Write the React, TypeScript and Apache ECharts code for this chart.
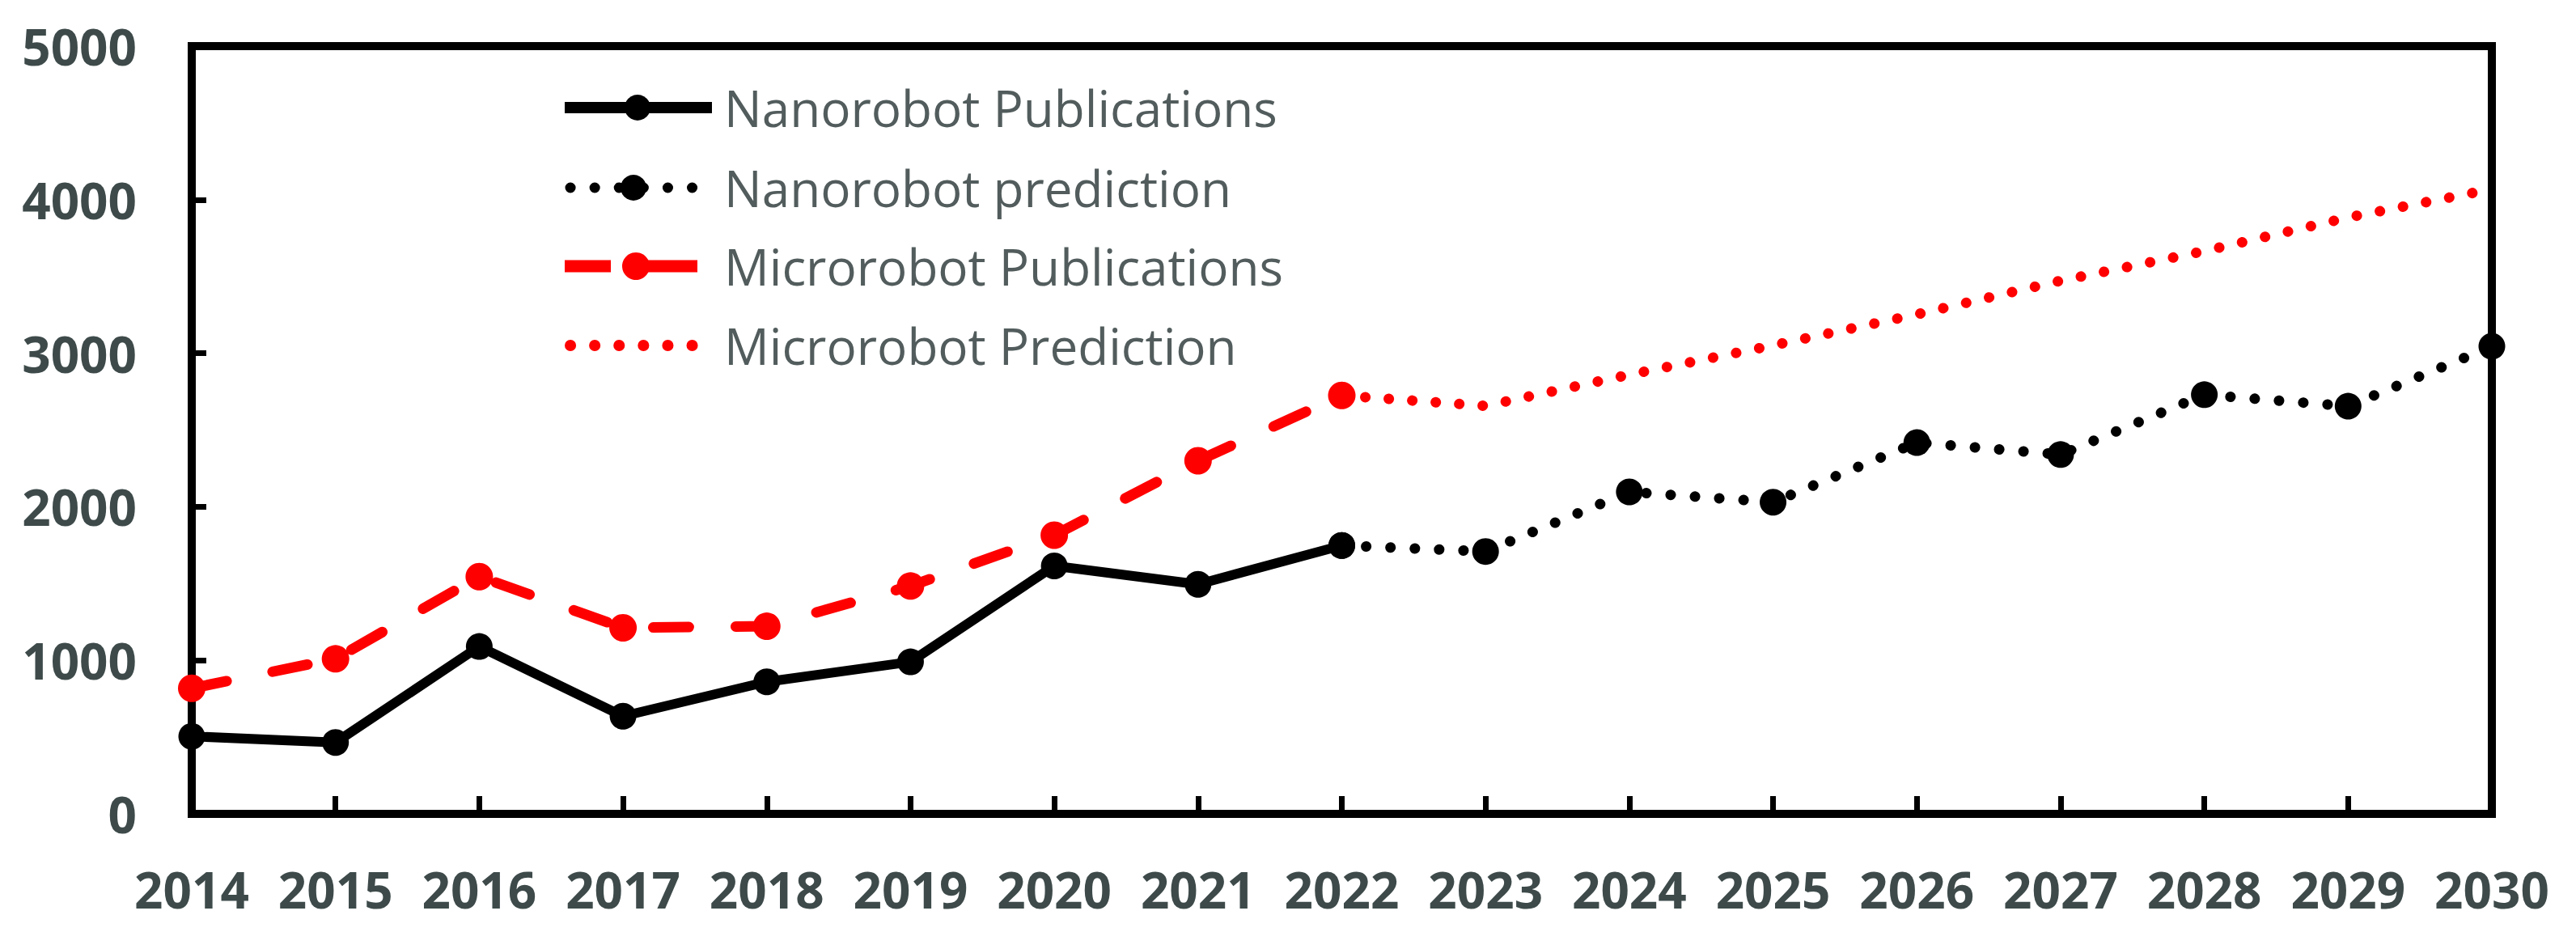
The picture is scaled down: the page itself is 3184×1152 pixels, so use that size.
import React, { useEffect, useRef } from "react";
import * as echarts from "echarts";

const years = ["2014", "2015", "2016", "2017", "2018", "2019", "2020", "2021", "2022", "2023", "2024", "2025", "2026", "2027", "2028", "2029", "2030"];
const nanoPublications = [505, 465, 1090, 636, 860, 990, 1615, 1495, 1748];
const nanoPrediction = [1748, 1709, 2097, 2030, 2418, 2340, 2730, 2655, 3045];
const microPublications = [818, 1010, 1545, 1212, 1222, 1484, 1815, 2300, 2725];
const microPrediction = [2725, 2657, 2860, 3051, 3253, 3472, 3665, 3884, 4068];
const seriesNames = ["Nanorobot Publications", "Nanorobot prediction", "Microrobot Publications", "Microrobot Prediction"];
const predictionStart = 8;
const yMin = 0;
const yMax = 5000;
const yStep = 1000;

const pad = (arr: number[], offset: number) =>
  years.map((_, i) => {
    const j = i - offset;
    return j >= 0 && j < arr.length ? arr[j] : null;
  });

const FONT = "'Open Sans', sans-serif";
const LABEL_COLOR = "#3e4a4a";
const LEGEND_COLOR = "#525c5c";
const RED = "#ff0000";
const BLACK = "#000000";

const DOTS = [0.1, 30];

function buildLegend() {
  const rows = [133, 232, 329, 427];
  const x0 = 698;
  const x1 = 880;
  const cx = 788;
  const r = 16;
  const els: any[] = [];
  els.push({ type: "line", shape: { x1: x0, y1: rows[0], x2: x1, y2: rows[0] }, style: { stroke: BLACK, lineWidth: 14 } });
  els.push({ type: "circle", shape: { cx, cy: rows[0], r }, style: { fill: BLACK } });
  els.push({ type: "line", shape: { x1: 705, y1: rows[1], x2: 860, y2: rows[1] }, style: { stroke: BLACK, lineWidth: 13, lineDash: DOTS, lineCap: "round" } });
  els.push({ type: "circle", shape: { cx: cx - 5, cy: rows[1], r }, style: { fill: BLACK } });
  els.push({ type: "line", shape: { x1: x0, y1: rows[2], x2: 755, y2: rows[2] }, style: { stroke: RED, lineWidth: 15 } });
  els.push({ type: "line", shape: { x1: cx, y1: rows[2], x2: 862, y2: rows[2] }, style: { stroke: RED, lineWidth: 15 } });
  els.push({ type: "circle", shape: { cx: cx - 2, cy: rows[2], r: r + 1 }, style: { fill: RED } });
  els.push({ type: "line", shape: { x1: 705, y1: rows[3], x2: 858, y2: rows[3] }, style: { stroke: RED, lineWidth: 14, lineDash: DOTS, lineCap: "round" } });
  seriesNames.forEach((name, i) => {
    els.push({
      type: "text",
      x: 895,
      y: rows[i],
      style: { text: name, fontFamily: FONT, fontSize: 62, fill: LEGEND_COLOR, verticalAlign: "middle", align: "left" },
    });
  });
  return els;
}

export default function App() {
  const ref = useRef<HTMLDivElement>(null);
  useEffect(() => {
    if (!ref.current) return;
    const chart = echarts.init(ref.current, undefined, { renderer: "svg" });
    chart.setOption({
      animation: false,
      backgroundColor: "#ffffff",
      grid: {
        left: 237,
        top: 57,
        right: 104,
        bottom: 146,
        show: true,
        borderColor: BLACK,
        borderWidth: 10,
        backgroundColor: "transparent",
      },
      graphic: buildLegend(),
      xAxis: {
        type: "category",
        data: years,
        boundaryGap: false,
        axisLine: { lineStyle: { color: BLACK, width: 10 } },
        axisTick: { inside: true, length: 22, lineStyle: { color: BLACK, width: 7 } },
        axisLabel: {
          fontFamily: FONT,
          fontWeight: "bold",
          fontSize: 62,
          color: LABEL_COLOR,
          margin: 62,
          interval: 0,
        },
        splitLine: { show: false },
      },
      yAxis: {
        type: "value",
        min: yMin,
        max: yMax,
        interval: yStep,
        axisLine: { show: true, lineStyle: { color: BLACK, width: 10 } },
        axisTick: { show: true, inside: true, length: 18, lineStyle: { color: BLACK, width: 7 } },
        axisLabel: {
          fontFamily: FONT,
          fontWeight: "bold",
          fontSize: 62,
          color: LABEL_COLOR,
          margin: 68,
          formatter: (v: number) => String(v),
        },
        splitLine: { show: false },
      },
      series: [
        {
          name: seriesNames[3],
          type: "line",
          data: pad(microPrediction, predictionStart),
          symbol: "none",
          lineStyle: { color: RED, width: 13, type: [0.1, 29], cap: "round" },
          itemStyle: { color: RED },
          z: 2,
        },
        {
          name: seriesNames[2],
          type: "line",
          data: pad(microPublications, 0),
          symbol: "circle",
          symbolSize: 34,
          lineStyle: { color: RED, width: 13, type: [44, 58], cap: "round" },
          itemStyle: { color: RED },
          z: 3,
        },
        {
          name: seriesNames[1],
          type: "line",
          data: pad(nanoPrediction, predictionStart),
          symbol: "circle",
          symbolSize: 33,
          lineStyle: { color: BLACK, width: 13, type: [0.1, 30], cap: "round" },
          itemStyle: { color: BLACK },
          z: 4,
        },
        {
          name: seriesNames[0],
          type: "line",
          data: pad(nanoPublications, 0),
          symbol: "circle",
          symbolSize: 33,
          lineStyle: { color: BLACK, width: 12 },
          itemStyle: { color: BLACK },
          z: 5,
        },
      ],
    });
    return () => chart.dispose();
  }, []);
  return (
    <div
      ref={ref}
      style={{ position: "fixed", left: 0, top: 0, width: 3184, height: 1152, background: "#fff" }}
    />
  );
}
